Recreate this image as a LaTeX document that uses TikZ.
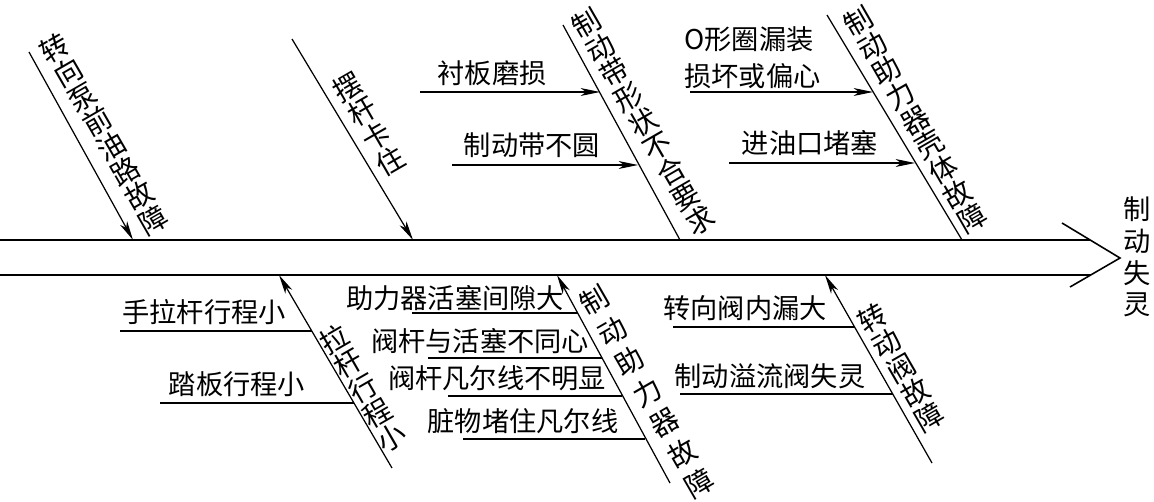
\documentclass[tikz,border=0pt]{standalone}
\usepackage{fontspec}
\setmainfont{Noto Sans CJK SC}
\usetikzlibrary{arrows.meta}
\tikzset{
    % Spine of the fish bone
    spine/.style={
        line width=0.9pt,
        draw=black
    },
    % Cause branches
    cause/.style={
        line width=0.7pt,
        draw=black,
        -{Stealth[length=11pt,width=4.5pt,inset=3pt]}
    },
    plaincause/.style={
        line width=0.7pt,
        draw=black
    },
    underline/.style={
        line width=0.7pt,
        draw=black
    },
    % Labels
    vlabel/.style={
        rotate=30,
        align=center,
        inner sep=0pt,
        font=\fontsize{16}{16.2}\selectfont
    },
    hlabel/.style={
        inner sep=0pt,
        font=\fontsize{15.5}{18}\selectfont
    },
    effect/.style={
        align=center,
        inner sep=0pt,
        font=\fontsize{15.5}{18}\selectfont
    }
}

\begin{document}
\begin{tikzpicture}[x=0.02cm, y=-0.02cm]

    \useasboundingbox (0,0) rectangle (1154,501);

    % Spine
    \coordinate (spine_top_l) at (0,240);
    \coordinate (spine_top_r) at (1090,240);
    \coordinate (spine_bot_l) at (0,275);
    \coordinate (spine_bot_r) at (1091,275);
    \coordinate (head_up) at (1062,223);
    \coordinate (head_tip) at (1120,258);
    \coordinate (head_low) at (1070,287);
    \draw[spine] (spine_top_l) -- (spine_top_r);
    \draw[spine] (spine_bot_l) -- (spine_bot_r);
    \draw[spine] (head_up) -- (head_tip) -- (head_low);
    \node[effect] (effect) at (1137,257) {制\\动\\失\\灵};

    % Top 1: pump
    \coordinate (pump_s) at (29,52);
    \coordinate (pump_e) at (133,240);
    \draw[cause] (pump_s) -- (pump_e);
    \node[vlabel] (pump) at (104,134) {转\\向\\泵\\前\\油\\路\\故\\障};

    % Top 2: rocker
    \coordinate (rocker_s) at (292,39);
    \coordinate (rocker_e) at (413,240);
    \draw[cause] (rocker_s) -- (rocker_e);
    \node[vlabel] (rocker) at (369,124) {摆\\杆\\卡\\住};

    % Top 3: brake band
    \coordinate (band_s) at (563,25);
    \coordinate (band_e) at (680,240);
    \draw[plaincause] (band_s) -- (band_e);
    \node[vlabel] (band) at (643,122) {制\\动\\带\\形\\状\\不\\合\\要\\求};
    \node[hlabel] (lining) at (492,73) {衬板磨损};
    \coordinate (lining_s) at (420,92);
    \coordinate (lining_e) at (600,92);
    \draw[cause] (lining_s) -- (lining_e);
    \node[hlabel] (round) at (532,145) {制动带不圆};
    \coordinate (round_s) at (452,165);
    \coordinate (round_e) at (638,165);
    \draw[cause] (round_s) -- (round_e);

    % Top 4: booster housing
    \coordinate (housing_s) at (827,15);
    \coordinate (housing_e) at (962,240);
    \draw[plaincause] (housing_s) -- (housing_e);
    \node[vlabel] (housing) at (915,120) {制\\动\\助\\力\\器\\壳\\体\\故\\障};
    \node[hlabel, align=left, anchor=west, font=\fontsize{15.5}{21}\selectfont] (oring) at (684,58) {O形圈漏装\\损坏或偏心};
    \coordinate (oring_s) at (690,92);
    \coordinate (oring_e) at (873,92);
    \draw[cause] (oring_s) -- (oring_e);
    \node[hlabel] (inlet) at (810,143) {进油口堵塞};
    \coordinate (inlet_s) at (729,163);
    \coordinate (inlet_e) at (915,163);
    \draw[cause] (inlet_s) -- (inlet_e);

    % Bottom 1: pull rod travel
    \coordinate (rod_s) at (392,468);
    \coordinate (rod_e) at (279,275);
    \draw[cause] (rod_s) -- (rod_e);
    \node[vlabel] (rod) at (363,388) {拉\\杆\\行\\程\\小};
    \node[hlabel] (handrod) at (204,312) {手拉杆行程小};
    \coordinate (handrod_s) at (120,331);
    \coordinate (handrod_e) at (312,331);
    \draw[underline] (handrod_s) -- (handrod_e);
    \node[hlabel] (pedal) at (237,384) {踏板行程小};
    \coordinate (pedal_s) at (160,403);
    \coordinate (pedal_e) at (354,403);
    \draw[underline] (pedal_s) -- (pedal_e);

    % Bottom 2: brake booster
    \coordinate (booster_s) at (670,483);
    \coordinate (booster_e) at (557,275);
    \draw[cause] (booster_s) -- (booster_e);
    \node[vlabel, font=\fontsize{16}{20}\selectfont] (booster) at (647,392) {制\\动\\助\\力\\器\\故\\障};
    \node[hlabel] (gap) at (455,298) {助力器活塞间隙大};
    \coordinate (gap_s) at (412,313);
    \coordinate (gap_e) at (578,313);
    \draw[underline] (gap_s) -- (gap_e);
    \node[hlabel] (coaxial) at (480,341) {阀杆与活塞不同心};
    \coordinate (coaxial_s) at (428,358);
    \coordinate (coaxial_e) at (602,358);
    \draw[underline] (coaxial_s) -- (coaxial_e);
    \node[hlabel] (seatline) at (497,378) {阀杆凡尔线不明显};
    \coordinate (seatline_s) at (448,396);
    \coordinate (seatline_e) at (622,396);
    \draw[underline] (seatline_s) -- (seatline_e);
    \node[hlabel] (dirt) at (523,421) {脏物堵住凡尔线};
    \coordinate (dirt_s) at (463,439);
    \coordinate (dirt_e) at (645,439);
    \draw[underline] (dirt_s) -- (dirt_e);

    % Bottom 3: rotary valve
    \coordinate (valve_s) at (932,463);
    \coordinate (valve_e) at (825,275);
    \draw[cause] (valve_s) -- (valve_e);
    \node[vlabel] (valve) at (901,368) {转\\动\\阀\\故\\障};
    \node[hlabel] (leak) at (745,308) {转向阀内漏大};
    \coordinate (leak_s) at (673,327);
    \coordinate (leak_e) at (855,327);
    \draw[underline] (leak_s) -- (leak_e);
    \node[hlabel] (overflow) at (770,376) {制动溢流阀失灵};
    \coordinate (overflow_s) at (680,394);
    \coordinate (overflow_e) at (893,394);
    \draw[underline] (overflow_s) -- (overflow_e);

\end{tikzpicture}
\end{document}
